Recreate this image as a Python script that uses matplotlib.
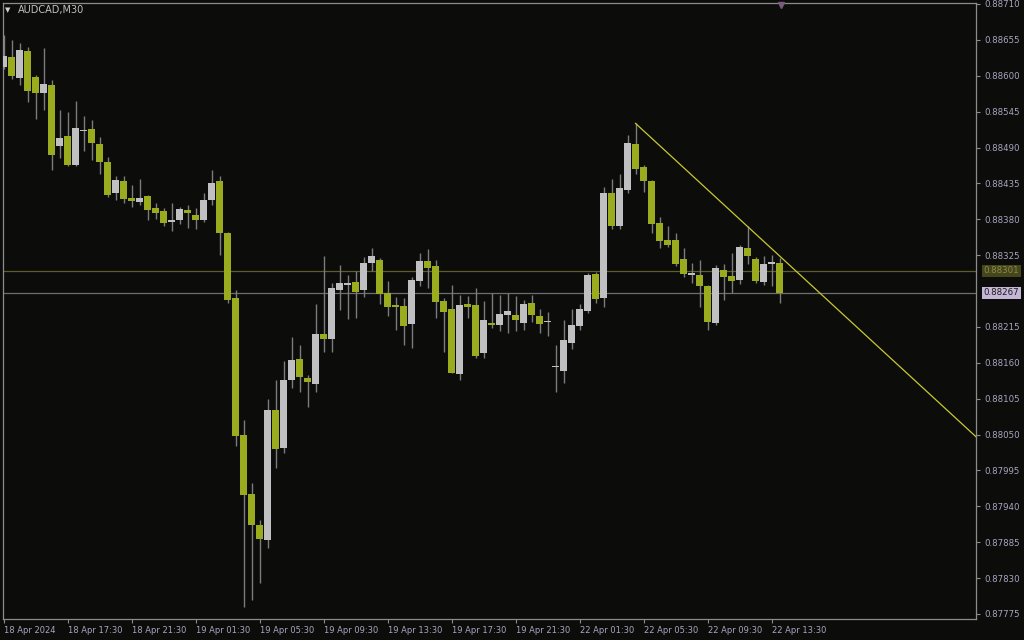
import matplotlib
matplotlib.use("Agg")
from matplotlib import pyplot as plt
from matplotlib.transforms import blended_transform_factory

symbol = "AUDCAD,M30"

# OHLC of the M30 bars, oldest first (bar 0 = 18 Apr 13:30)
opens = [
    0.88614, 0.88629, 0.88596, 0.88638, 0.88598, 0.88574, 0.88586, 0.88492, 0.88507, 0.88463,
    0.88516, 0.88519, 0.88495, 0.88468, 0.88420, 0.88439, 0.88412, 0.88407, 0.88415, 0.88397,
    0.88392, 0.88376, 0.88379, 0.88394, 0.88387, 0.88379, 0.88410, 0.88438, 0.88359, 0.88260,
    0.88050, 0.87959, 0.87911, 0.87888, 0.88088, 0.88029, 0.88133, 0.88166, 0.88137, 0.88127,
    0.88204, 0.88196, 0.88272, 0.88280, 0.88284, 0.88271, 0.88313, 0.88317, 0.88267, 0.88248,
    0.88247, 0.88220, 0.88286, 0.88316, 0.88308, 0.88254, 0.88242, 0.88143, 0.88250, 0.88248,
    0.88175, 0.88221, 0.88218, 0.88233, 0.88233, 0.88221, 0.88252, 0.88232, 0.88222, 0.88154,
    0.88148, 0.88191, 0.88216, 0.88240, 0.88296, 0.88260, 0.88421, 0.88369, 0.88425, 0.88495,
    0.88460, 0.88439, 0.88374, 0.88348, 0.88348, 0.88319, 0.88295, 0.88295, 0.88278, 0.88221,
    0.88303, 0.88293, 0.88287, 0.88336, 0.88319, 0.88284, 0.88312, 0.88313,
]
highs = [
    0.88662, 0.88655, 0.88650, 0.88644, 0.88601, 0.88642, 0.88594, 0.88548, 0.88545, 0.88562,
    0.88538, 0.88532, 0.88506, 0.88476, 0.88446, 0.88446, 0.88432, 0.88441, 0.88417, 0.88405,
    0.88398, 0.88405, 0.88399, 0.88402, 0.88397, 0.88421, 0.88456, 0.88446, 0.88361, 0.88272,
    0.88073, 0.87975, 0.87919, 0.88104, 0.88134, 0.88162, 0.88200, 0.88187, 0.88141, 0.88250,
    0.88323, 0.88282, 0.88310, 0.88295, 0.88300, 0.88322, 0.88336, 0.88321, 0.88286, 0.88261,
    0.88259, 0.88292, 0.88328, 0.88334, 0.88318, 0.88259, 0.88279, 0.88264, 0.88262, 0.88274,
    0.88254, 0.88267, 0.88264, 0.88267, 0.88262, 0.88256, 0.88264, 0.88243, 0.88238, 0.88187,
    0.88226, 0.88243, 0.88250, 0.88298, 0.88299, 0.88429, 0.88441, 0.88450, 0.88509, 0.88527,
    0.88463, 0.88440, 0.88383, 0.88369, 0.88359, 0.88336, 0.88313, 0.88318, 0.88279, 0.88310,
    0.88311, 0.88329, 0.88341, 0.88369, 0.88322, 0.88324, 0.88325, 0.88320,
]
lows = [
    0.88610, 0.88595, 0.88586, 0.88560, 0.88534, 0.88548, 0.88456, 0.88474, 0.88462, 0.88461,
    0.88484, 0.88471, 0.88450, 0.88414, 0.88410, 0.88405, 0.88399, 0.88402, 0.88379, 0.88381,
    0.88369, 0.88362, 0.88373, 0.88366, 0.88365, 0.88376, 0.88402, 0.88325, 0.88251, 0.88032,
    0.87786, 0.87796, 0.87822, 0.87876, 0.87999, 0.88021, 0.88121, 0.88116, 0.88093, 0.88116,
    0.88177, 0.88177, 0.88241, 0.88227, 0.88228, 0.88261, 0.88300, 0.88250, 0.88231, 0.88210,
    0.88187, 0.88183, 0.88277, 0.88274, 0.88228, 0.88177, 0.88144, 0.88134, 0.88228, 0.88167,
    0.88167, 0.88213, 0.88208, 0.88206, 0.88208, 0.88211, 0.88223, 0.88205, 0.88201, 0.88116,
    0.88129, 0.88181, 0.88210, 0.88236, 0.88251, 0.88246, 0.88365, 0.88365, 0.88421, 0.88450,
    0.88422, 0.88359, 0.88336, 0.88338, 0.88308, 0.88292, 0.88283, 0.88246, 0.88211, 0.88218,
    0.88256, 0.88267, 0.88281, 0.88311, 0.88283, 0.88279, 0.88277, 0.88252,
]
closes = [
    0.88630, 0.88599, 0.88640, 0.88576, 0.88574, 0.88588, 0.88479, 0.88505, 0.88463, 0.88520,
    0.88517, 0.88497, 0.88468, 0.88417, 0.88440, 0.88411, 0.88408, 0.88413, 0.88394, 0.88390,
    0.88375, 0.88379, 0.88396, 0.88390, 0.88379, 0.88410, 0.88436, 0.88359, 0.88256, 0.88048,
    0.87958, 0.87912, 0.87890, 0.88088, 0.88028, 0.88133, 0.88164, 0.88139, 0.88130, 0.88204,
    0.88196, 0.88274, 0.88283, 0.88283, 0.88269, 0.88313, 0.88324, 0.88266, 0.88246, 0.88245,
    0.88217, 0.88287, 0.88316, 0.88306, 0.88253, 0.88238, 0.88145, 0.88249, 0.88245, 0.88170,
    0.88225, 0.88218, 0.88235, 0.88239, 0.88225, 0.88250, 0.88233, 0.88220, 0.88223, 0.88155,
    0.88195, 0.88218, 0.88243, 0.88295, 0.88258, 0.88421, 0.88370, 0.88428, 0.88497, 0.88457,
    0.88438, 0.88373, 0.88346, 0.88341, 0.88311, 0.88296, 0.88297, 0.88277, 0.88223, 0.88305,
    0.88292, 0.88286, 0.88337, 0.88324, 0.88285, 0.88311, 0.88315, 0.88267,
]

time_labels = [
    "18 Apr 2024", "18 Apr 17:30", "18 Apr 21:30", "19 Apr 01:30", "19 Apr 05:30",
    "19 Apr 09:30", "19 Apr 13:30", "19 Apr 17:30", "19 Apr 21:30", "22 Apr 01:30",
    "22 Apr 05:30", "22 Apr 09:30", "22 Apr 13:30",
]
price_ticks = [
    0.88710, 0.88655, 0.88600, 0.88545, 0.88490, 0.88435, 0.88380, 0.88325, 0.88215,
    0.88160, 0.88105, 0.88050, 0.87995, 0.87940, 0.87885, 0.87830, 0.87775,
]
ask_price = 0.88301
bid_price = 0.88267
# trend line drawn through two bar highs, extended to the right
trend_start = (79, 0.88527)
trend_through = (93, 0.88369)

BG = "#0c0c0b"
BULL = "#c0c0c2"
BEAR = "#9aab1e"
WICK = "#7c7c7c"
FRAME = "#8c8c8c"
AXIS_TEXT = "#aca4c0"

fig = plt.figure(figsize=(10.24, 6.4), dpi=100, facecolor=BG)
ax = fig.add_axes([3 / 1024, 21 / 640, 973 / 1024, 616 / 640])
ax.set_facecolor(BG)

n = len(opens)
xs = list(range(n))
ax.vlines(xs, lows, highs, color=WICK, linewidth=1.0, zorder=2)
for i in xs:
    o, c = opens[i], closes[i]
    bottom = min(o, c)
    height = max(abs(c - o), 0.000016)
    ax.bar(i, height, bottom=bottom, width=0.85, color=BULL if c >= o else BEAR,
           linewidth=0, zorder=3)

ax.set_xlim(-0.0625, 121.5625)
ax.set_ylim(0.877673, 0.887115)

# ask / bid lines
ax.axhline(ask_price, color="#5e5e2c", linewidth=0.9, zorder=1)
ax.axhline(bid_price, color="#6e6e6e", linewidth=0.9, zorder=1)

# trend line
slope = (trend_through[1] - trend_start[1]) / (trend_through[0] - trend_start[0])
x_end = 130
ax.plot([trend_start[0], x_end], [trend_start[1], trend_start[1] + slope * (x_end - trend_start[0])],
        color="#c8c832", linewidth=0.9, zorder=4, clip_on=True)

# axes styling
for side in ("left", "top", "bottom", "right"):
    ax.spines[side].set_color(FRAME)
    ax.spines[side].set_linewidth(0.9)

ax.yaxis.tick_right()
ax.set_yticks(price_ticks)
ax.set_yticklabels([f"{p:.5f}" for p in price_ticks])
ax.tick_params(axis="y", colors=FRAME, labelcolor=AXIS_TEXT, labelsize=6.2,
               length=3, width=0.8, direction="out", pad=3)

ax.set_xticks(list(range(0, 8 * len(time_labels), 8)))
ax.set_xticklabels(time_labels)
ax.tick_params(axis="x", colors=FRAME, labelcolor=AXIS_TEXT, labelsize=6.0,
               length=3, width=0.8, direction="out", pad=2)
for lbl in ax.get_xticklabels():
    lbl.set_horizontalalignment("left")

# price boxes on the right axis
trans = blended_transform_factory(ax.transAxes, ax.transData)
ax.text(1.008, ask_price, f"{ask_price:.5f}", transform=trans, fontsize=6.2,
        color="#8a8a48", va="center", ha="left",
        bbox=dict(boxstyle="square,pad=0.2", facecolor="#46461c", edgecolor="none"))
ax.text(1.008, bid_price, f"{bid_price:.5f}", transform=trans, fontsize=6.2,
        color="#1a1a1a", va="center", ha="left",
        bbox=dict(boxstyle="square,pad=0.2", facecolor="#c4b6d6", edgecolor="none"))

# symbol caption
fig.text(8 / 1024, 1 - 10 / 640, "\u25bc", fontsize=5, color="#d0d0d0", va="center", ha="center")
fig.text(18 / 1024, 1 - 10 / 640, symbol, fontsize=7, color="#c0c0c0", va="center", ha="left")

# small marker on top edge
ax.plot([97.2], [0.887080], marker="v", markersize=5, color="#7a5a7a", clip_on=False, zorder=5)

plt.savefig("out.png", dpi=100, facecolor=BG)
plt.close()
